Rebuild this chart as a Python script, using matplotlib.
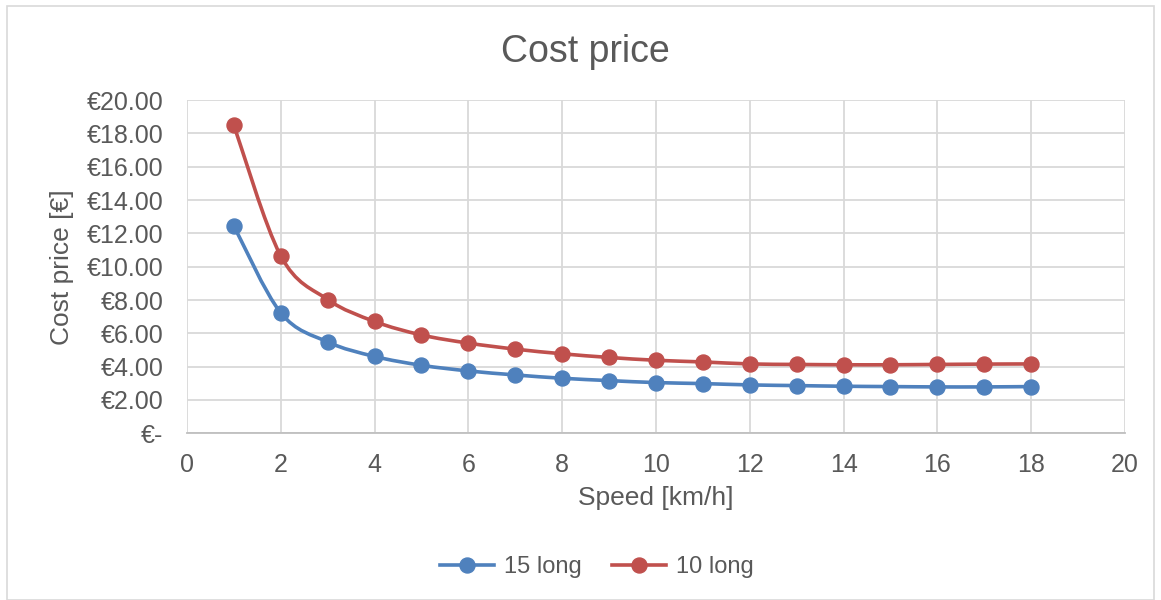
import numpy as np
import matplotlib
matplotlib.use("Agg")
import matplotlib.pyplot as plt
from matplotlib.path import Path
from matplotlib.patches import PathPatch, Rectangle
from matplotlib.lines import Line2D

plt.rcParams['font.family'] = ['Liberation Sans', 'DejaVu Sans']

# data
speed = [1, 2, 3, 4, 5, 6, 7, 8, 9, 10, 11, 12, 13, 14, 15, 16, 17, 18]
long15 = [12.45, 7.23, 5.48, 4.61, 4.08, 3.74, 3.50, 3.30, 3.16, 3.04,
          2.98, 2.90, 2.86, 2.82, 2.80, 2.78, 2.78, 2.80]
long10 = [18.50, 10.65, 8.03, 6.71, 5.90, 5.41, 5.05, 4.77, 4.55, 4.38,
          4.28, 4.16, 4.13, 4.11, 4.11, 4.13, 4.15, 4.16]
series_names = ['15 long', '10 long']
colors = ['#4F81BD', '#C0504D']
text_col = '#595959'
grid_col = '#D9D9D9'


def smooth_path(x, y):
    # Excel-style smoothed line: cubic bezier through points (Catmull-Rom tangents)
    x = np.asarray(x, float)
    y = np.asarray(y, float)
    verts = [(x[0], y[0])]
    codes = [Path.MOVETO]
    n = len(x)
    for i in range(n - 1):
        x0, y0 = (x[i - 1], y[i - 1]) if i > 0 else (x[i], y[i])
        x3, y3 = (x[i + 2], y[i + 2]) if i + 2 < n else (x[i + 1], y[i + 1])
        c1 = (x[i] + (x[i + 1] - x0) / 6, y[i] + (y[i + 1] - y0) / 6)
        c2 = (x[i + 1] - (x3 - x[i]) / 6, y[i + 1] - (y3 - y[i]) / 6)
        verts += [c1, c2, (x[i + 1], y[i + 1])]
        codes += [Path.CURVE4] * 3
    return Path(verts, codes)


fig = plt.figure(figsize=(11.61, 6.0), dpi=100)
fig.patches.append(Rectangle((0.006, 0.0), 0.988, 0.99, transform=fig.transFigure,
                             fill=False, edgecolor='#D9D9D9', linewidth=1.2))

ax = fig.add_axes([0.161, 0.278, 0.808, 0.555])

for ys, c, name in zip([long15, long10], colors, series_names):
    ax.add_patch(PathPatch(smooth_path(speed, ys), fill=False, edgecolor=c,
                           linewidth=2.6, zorder=3, capstyle='round'))
    ax.plot(speed, ys, linestyle='none', marker='o', markersize=10.8, color=c,
            zorder=4, label=name)

ax.set_xlim(0, 20)
ax.set_ylim(0, 20)
ax.set_xticks(range(0, 21, 2))
ax.set_yticks(range(0, 21, 2))
ax.set_yticklabels(['€-' if v == 0 else '€%.2f' % v for v in range(0, 21, 2)])
ax.grid(True, color=grid_col, linewidth=1.3)
ax.set_axisbelow(True)
for s in ['top', 'right', 'left']:
    ax.spines[s].set_visible(False)
ax.spines['bottom'].set_color('#BFBFBF')
ax.spines['bottom'].set_linewidth(1.3)
ax.tick_params(length=0, labelsize=18, labelcolor=text_col)
ax.tick_params(axis='x', pad=14)
ax.tick_params(axis='y', pad=17)

ax.set_xlabel('Speed [km/h]', fontsize=19, color=text_col, labelpad=7)
ax.set_ylabel('Cost price [€]', fontsize=19, color=text_col, labelpad=9)
fig.text(0.504, 0.914, 'Cost price', fontsize=27, color=text_col,
         ha='center', va='center')

handles = [Line2D([0], [0], color=c, linewidth=2.6, marker='o', markersize=10.8)
           for c in colors]
fig.legend(handles, series_names, loc='center', bbox_to_anchor=(0.514, 0.055),
           ncol=2, frameon=False, fontsize=17, labelcolor=text_col,
           handlelength=2.3, columnspacing=1.3, handletextpad=0.4)

fig.savefig('out.png', dpi=100)
